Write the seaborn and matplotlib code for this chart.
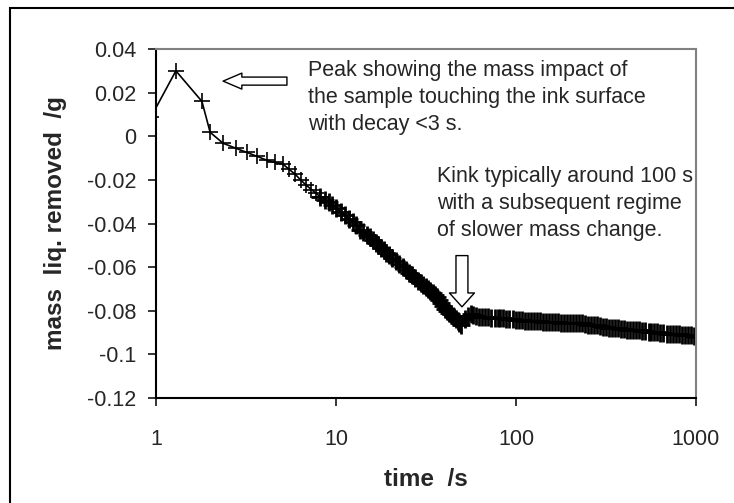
import matplotlib
matplotlib.use("Agg")
import matplotlib.pyplot as plt
import matplotlib.patches as patches
from matplotlib.ticker import NullLocator
import pandas as pd
import seaborn as sns

# readings taken off the chart (time in s, mass in g)
time_s = [0.94, 1.29, 1.80, 2.00, 2.36, 2.78, 3.20, 3.64, 4.14, 4.58,
          5.08, 5.50, 5.95, 6.40, 6.85, 7.30, 7.75, 8.20, 8.65, 9.10, 9.55, 10.0,
          10.6, 11.2, 11.8, 12.4, 13.0, 13.6, 14.2, 14.8, 15.4, 16.0, 16.6, 17.2,
          17.8, 18.4, 19.0, 19.6,
          20.5, 21.5, 22.5, 23.5, 24.5, 25.5, 26.5, 27.5, 28.5, 29.5,
          30.5, 31.5, 32.5, 33.5, 34.5, 35.5, 36.5, 37.5, 38.5, 39.5,
          40.5, 41.5, 42.5, 43.5, 44.5, 45.5, 46.5, 47.5, 48.5, 49.5,
          52, 54, 56, 58, 60,
          62.5, 65, 67.5, 70,
          73, 76, 79, 82, 85, 88,
          92, 96, 100, 104, 108, 112, 116,
          121, 126, 131, 136, 141,
          147, 153, 159, 165, 171,
          178, 185, 192, 200, 208, 216,
          225, 234, 243, 252, 262, 272,
          283, 294, 306, 318, 330, 343,
          357, 371, 385, 400, 416, 432,
          449, 467, 485, 504, 524, 545,
          566, 588, 611, 635, 660, 686,
          713, 741, 770, 800, 832, 864,
          898, 933, 970, 1000]

mass_g = [0.0090, 0.0300, 0.0160, 0.0018, -0.0032, -0.0055, -0.0074, -0.0092, -0.0110, -0.0120,
          -0.0128, -0.0152, -0.0175, -0.0202, -0.0225, -0.0244, -0.0262, -0.0277, -0.0290, -0.0303,
          -0.0317, -0.0331,
          -0.0345, -0.0363, -0.0377, -0.0395, -0.0409, -0.0428, -0.0437, -0.0451, -0.0464, -0.0474,
          -0.0487, -0.0497, -0.0510, -0.0520, -0.0533, -0.0543,
          -0.0556, -0.0570, -0.0584, -0.0598, -0.0611, -0.0625, -0.0634, -0.0648, -0.0662, -0.0671,
          -0.0680, -0.0690, -0.0699, -0.0708, -0.0717, -0.0726, -0.0736, -0.0749, -0.0763, -0.0777,
          -0.0791, -0.0800, -0.0809, -0.0814, -0.0823, -0.0828, -0.0837, -0.0846, -0.0855, -0.0865,
          -0.0837, -0.0823, -0.0814, -0.0818, -0.0823,
          -0.0828, -0.0828, -0.0828, -0.0828,
          -0.0832, -0.0832, -0.0832, -0.0832, -0.0832, -0.0837,
          -0.0837, -0.0837, -0.0841, -0.0841, -0.0841, -0.0846, -0.0846,
          -0.0846, -0.0846, -0.0846, -0.0846, -0.0851,
          -0.0851, -0.0851, -0.0851, -0.0851, -0.0851,
          -0.0855, -0.0855, -0.0855, -0.0855, -0.0855, -0.0855,
          -0.0855, -0.0855, -0.0860, -0.0864, -0.0864, -0.0864,
          -0.0864, -0.0869, -0.0874, -0.0874, -0.0878, -0.0878,
          -0.0878, -0.0878, -0.0883, -0.0883, -0.0887, -0.0887,
          -0.0887, -0.0887, -0.0887, -0.0892, -0.0892, -0.0897,
          -0.0897, -0.0897, -0.0897, -0.0901, -0.0901, -0.0906,
          -0.0906, -0.0906, -0.0906, -0.0906, -0.0910, -0.0910,
          -0.0910, -0.0910, -0.0915, -0.0920]

x_ticks = [1, 10, 100, 1000]
x_tick_labels = ["1", "10", "100", "1000"]
y_ticks = [-0.12, -0.1, -0.08, -0.06, -0.04, -0.02, 0, 0.02, 0.04]
y_tick_labels = ["-0.12", "-0.1", "-0.08", "-0.06", "-0.04", "-0.02", "0", "0.02", "0.04"]

note_peak = "Peak showing the mass impact of\nthe sample touching the ink surface\nwith decay <3 s."
note_kink = "Kink typically around 100 s\nwith a subsequent regime\nof slower mass change."

df = pd.DataFrame({"time": time_s, "mass": mass_g})
# the first samples sit apart, later ones pile up into a solid band
sparse = df[df["time"] <= 8.2]
dense = df[df["time"] >= 8.2]

sns.set_style("white")
plt.rcParams["font.family"] = ["Liberation Sans", "DejaVu Sans"]

fig = plt.figure(figsize=(7.34, 5.03), dpi=100)
ax = fig.add_axes([0.2125, 0.2087, 0.7357, 0.6938])

sns.lineplot(data=sparse, x="time", y="mass", ax=ax, color="black", lw=1.2,
             marker="+", markersize=11.5, markeredgewidth=1.2, markeredgecolor="black",
             estimator=None, sort=False)
sns.lineplot(data=dense, x="time", y="mass", ax=ax, color="black", lw=1.5,
             marker="+", markersize=12.5, markeredgewidth=2.0, markeredgecolor="black",
             estimator=None, sort=False)

ax.set_xscale("log")
ax.set_xlim(1, 1000)
ax.set_ylim(-0.12, 0.04)
ax.set_xticks(x_ticks)
ax.set_xticklabels(x_tick_labels)
ax.xaxis.set_minor_locator(NullLocator())
ax.set_yticks(y_ticks)
ax.set_yticklabels(y_tick_labels)

ax.tick_params(axis="both", which="major", direction="out", length=6, width=1.1,
               color="black", labelsize=15.5, bottom=True, left=True)
ax.tick_params(axis="x", pad=16)
ax.tick_params(axis="y", pad=8)

for side in ["left", "bottom"]:
    ax.spines[side].set_color("black")
    ax.spines[side].set_linewidth(1.5)
for side in ["top", "right"]:
    ax.spines[side].set_color("#808080")
    ax.spines[side].set_linewidth(1.5)

ax.set_xlabel("time  /s", fontsize=17.5, fontweight="bold")
ax.set_ylabel("mass  liq. removed  /g", fontsize=17.5, fontweight="bold")
ax.xaxis.set_label_coords(0.5, -0.2)
ax.yaxis.set_label_coords(-0.165, 0.5)

# notes and hollow arrows
ax.text(6.99, 0.0179, note_peak, ha="left", va="center", fontsize=15.5, linespacing=1.37)
ax.text(36.4, -0.0308, note_kink, ha="left", va="center", fontsize=15.5, linespacing=1.37)

ax.annotate("", xy=(2.36, 0.0253), xytext=(5.34, 0.0253),
            arrowprops=dict(arrowstyle="simple,head_length=13.5,head_width=11.5,tail_width=5.8",
                            fc="white", ec="black", lw=1, shrinkA=0, shrinkB=0,
                            mutation_scale=1))
ax.annotate("", xy=(50.1, -0.0782), xytext=(50.1, -0.0547),
            arrowprops=dict(arrowstyle="simple,head_length=10,head_width=18,tail_width=8.6",
                            fc="white", ec="black", lw=1, shrinkA=0, shrinkB=0,
                            mutation_scale=1))

# outer frame of the chart area (runs off the right and bottom edges)
frame = patches.Rectangle((10 / 734, -0.1), 1.0, 1.1 - 8 / 503, transform=fig.transFigure,
                          fill=False, ec="black", lw=1.5)
fig.patches.append(frame)

fig.savefig("out.png", dpi=100)
